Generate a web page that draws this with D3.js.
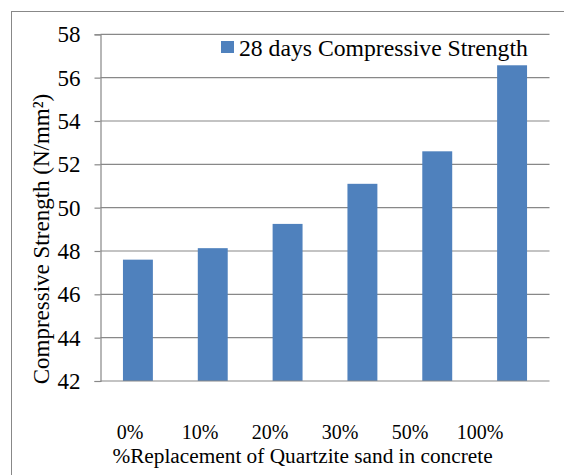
<!DOCTYPE html>
<html>
<head>
<meta charset="utf-8">
<script src="https://cdn.jsdelivr.net/npm/d3@7"></script>
<style>
  html, body { margin: 0; padding: 0; background: #fff; }
  svg { display: block; }
</style>
</head>
<body>
<svg id="chart" width="564" height="475"></svg>
<script>
const categories = ["0%", "10%", "20%", "30%", "50%", "100%"];
const strength28 = [47.6, 48.13, 49.25, 51.1, 52.6, 56.57];
const yTicks = [42, 44, 46, 48, 50, 52, 54, 56, 58];
const seriesName = "28 days Compressive Strength";
const xTitle = "%Replacement of Quartzite sand in concrete";
const yTitle = "Compressive Strength (N/mm²)";

const W = 564, H = 475;
const plot = { left: 100.5, right: 549.5, top: 34.3, bottom: 381 };
const gridColor = "#888888";
const barColor = "#4F81BD";
const FONT = "'Liberation Serif', 'Times New Roman', Tinos, serif";

const svg = d3.select("#chart");
svg.append("rect").attr("width", W).attr("height", H).attr("fill", "#fff");

// outer frame (extends past right/bottom edges)
svg.append("rect")
  .attr("x", 11.5).attr("y", 11.5)
  .attr("width", W + 20).attr("height", H + 20)
  .attr("fill", "none").attr("stroke", gridColor).attr("stroke-width", 1);

const x = d3.scaleBand().domain(categories)
  .range([plot.left, plot.right]).paddingInner(0.6).paddingOuter(0.3);
const y = d3.scaleLinear().domain([42, 58]).range([plot.bottom, plot.top]);

// gridlines
svg.append("g").selectAll("line").data(yTicks.filter(t => t !== 42)).join("line")
  .attr("x1", plot.left).attr("x2", plot.right)
  .attr("y1", d => y(d)).attr("y2", d => y(d))
  .attr("stroke", gridColor).attr("stroke-width", 1.2);

// bars
svg.append("g").selectAll("rect").data(categories).join("rect")
  .attr("x", d => x(d))
  .attr("width", x.bandwidth())
  .attr("y", (d, i) => y(strength28[i]))
  .attr("height", (d, i) => y(42) - y(strength28[i]))
  .attr("fill", barColor);

// y axis
const yAxis = d3.axisLeft(y).tickValues(yTicks).tickSize(6).tickPadding(14)
  .tickFormat(d3.format("d"));
const gy = svg.append("g").attr("transform", `translate(${plot.left},0)`).call(yAxis);
gy.select(".domain").attr("stroke", gridColor).attr("stroke-width", 1.2);
gy.selectAll(".tick line").attr("stroke", gridColor).attr("stroke-width", 1.2);
gy.selectAll(".tick text")
  .style("font-family", FONT).style("font-size", "23px").attr("fill", "#000");

// x axis baseline
svg.append("line")
  .attr("x1", plot.left).attr("x2", plot.right)
  .attr("y1", y(42)).attr("y2", y(42))
  .attr("stroke", gridColor).attr("stroke-width", 1.2);

// category labels (typed row, evenly spaced, narrower than plot)
const xl = d3.scalePoint().domain(categories).range([130, 480]);
svg.append("g").selectAll("text").data(categories).join("text")
  .attr("x", d => xl(d)).attr("y", 439)
  .attr("text-anchor", "middle")
  .style("font-family", FONT).style("font-size", "20px")
  .text(d => d);

// x title
svg.append("text")
  .attr("x", 302.5).attr("y", 463)
  .attr("text-anchor", "middle")
  .style("font-family", FONT).style("font-size", "21.3px")
  .text(xTitle);

// y title
svg.append("text")
  .attr("transform", "translate(49,239) rotate(-90)")
  .attr("text-anchor", "middle")
  .style("font-family", FONT).style("font-size", "23px")
  .text(yTitle);

// legend
const lg = svg.append("g");
lg.append("rect").attr("x", 221).attr("y", 41).attr("width", 13).attr("height", 12)
  .attr("fill", barColor);
lg.append("text").attr("x", 239).attr("y", 56)
  .style("font-family", FONT).style("font-size", "23.7px")
  .text(seriesName);
</script>
</body>
</html>
